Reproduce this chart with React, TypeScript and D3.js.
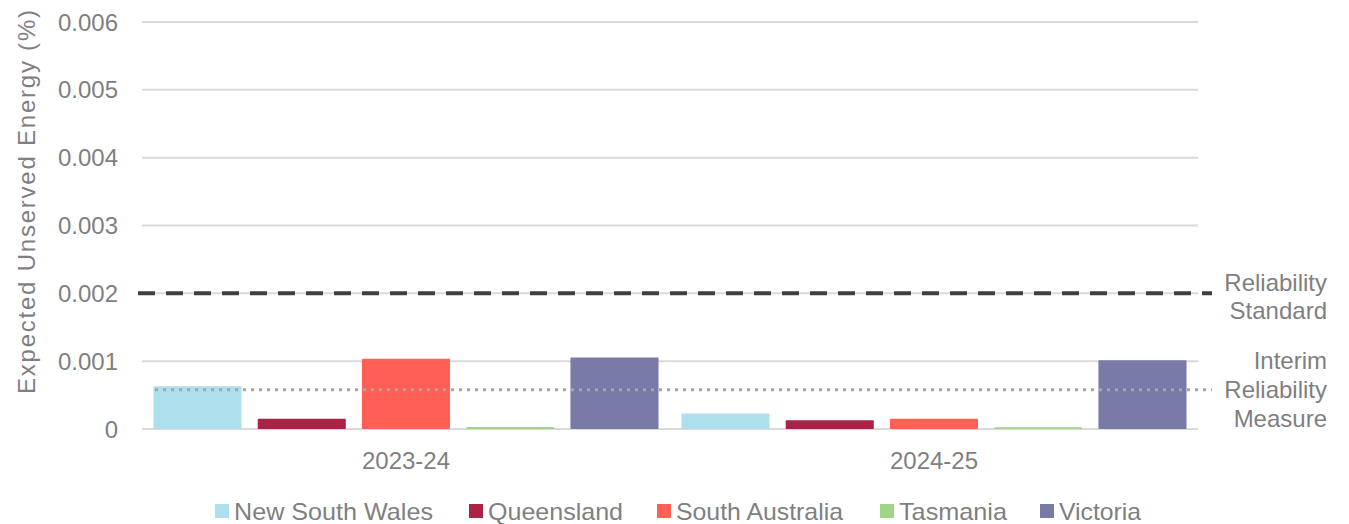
import React from "react";
import * as d3 from "d3";

const categories = ["2023-24", "2024-25"];
const series = ["New South Wales", "Queensland", "South Australia", "Tasmania", "Victoria"];
const colors = ["#addfec", "#a82345", "#ff5f55", "#a0d585", "#797ba7"];
const values2023 = [0.00063, 0.00015, 0.001035, 0.00003, 0.001055];
const values2024 = [0.00023, 0.00013, 0.00015, 0.000025, 0.001015];
const yTicks = [0, 0.001, 0.002, 0.003, 0.004, 0.005, 0.006];
const reliabilityStandard = 0.002;
const interimMeasure = 0.00058;

const W = 1349;
const H = 524;
const FONT = "'Liberation Sans', Arial, sans-serif";
const TXT = "#7f7f7f";

export default function App() {
  const x0 = d3.scaleBand<string>().domain(categories).range([142, 1198]).padding(0);
  const x1 = d3
    .scaleBand<string>()
    .domain(series)
    .range([0, x0.bandwidth()])
    .paddingInner(0.155)
    .paddingOuter(0.11);
  const y = d3.scaleLinear().domain([0, 0.006]).range([429, 22]);
  const data = [values2023, values2024];

  const legendX = [215, 469, 657, 880, 1040];
  const legendW = [199, 135, 167, 108, 82];

  return (
    <svg
      width={W}
      height={H}
      style={{ position: "absolute", left: 0, top: 0, background: "#fff" }}
      fontFamily={FONT}
    >
      {yTicks.map((t) => (
        <g key={t}>
          <line x1={142} x2={1198} y1={y(t)} y2={y(t)} stroke="#d9d9d9" strokeWidth={2} />
          <text x={118} y={y(t) + 8.5} textAnchor="end" fontSize={24} fill={TXT}>
            {t === 0 ? "0" : d3.format(".3f")(t)}
          </text>
        </g>
      ))}
      <text
        transform={`translate(35,202) rotate(-90)`}
        textAnchor="middle"
        fontSize={24}
        fill={TXT}
        textLength={384}
        lengthAdjust="spacing"
      >
        Expected Unserved Energy (%)
      </text>
      {categories.map((c, ci) => (
        <g key={c} transform={`translate(${x0(c)},0)`}>
          {series.map((s, si) => {
            const v = data[ci][si];
            return (
              <rect
                key={s}
                x={x1(s)}
                y={y(v)}
                width={x1.bandwidth()}
                height={y(0) - y(v)}
                fill={colors[si]}
                rx={1}
              />
            );
          })}
          <text
            x={x0.bandwidth() / 2}
            y={469}
            textAnchor="middle"
            fontSize={24}
            fill={TXT}
          >
            {c}
          </text>
        </g>
      ))}
      <line
        x1={138}
        x2={1212}
        y1={y(reliabilityStandard)}
        y2={y(reliabilityStandard)}
        stroke="#404040"
        strokeWidth={4}
        strokeDasharray="17 11"
      />
      <line
        x1={155}
        x2={1212}
        y1={y(interimMeasure)}
        y2={y(interimMeasure)}
        stroke="#a6a6a6"
        strokeWidth={3}
        strokeDasharray="3 5"
      />
      <g fontSize={24} fill={TXT} textAnchor="end">
        <text x={1327} y={291}>Reliability</text>
        <text x={1327} y={319}>Standard</text>
        <text x={1327} y={369}>Interim</text>
        <text x={1327} y={398}>Reliability</text>
        <text x={1327} y={427}>Measure</text>
      </g>
      {series.map((s, i) => (
        <g key={s} transform={`translate(${legendX[i]},0)`}>
          <rect x={0} y={504} width={14} height={14} fill={colors[i]} />
          <text
            x={19}
            y={520}
            fontSize={24}
            fill={TXT}
            textLength={legendW[i]}
            lengthAdjust="spacingAndGlyphs"
          >
            {s}
          </text>
        </g>
      ))}
    </svg>
  );
}
